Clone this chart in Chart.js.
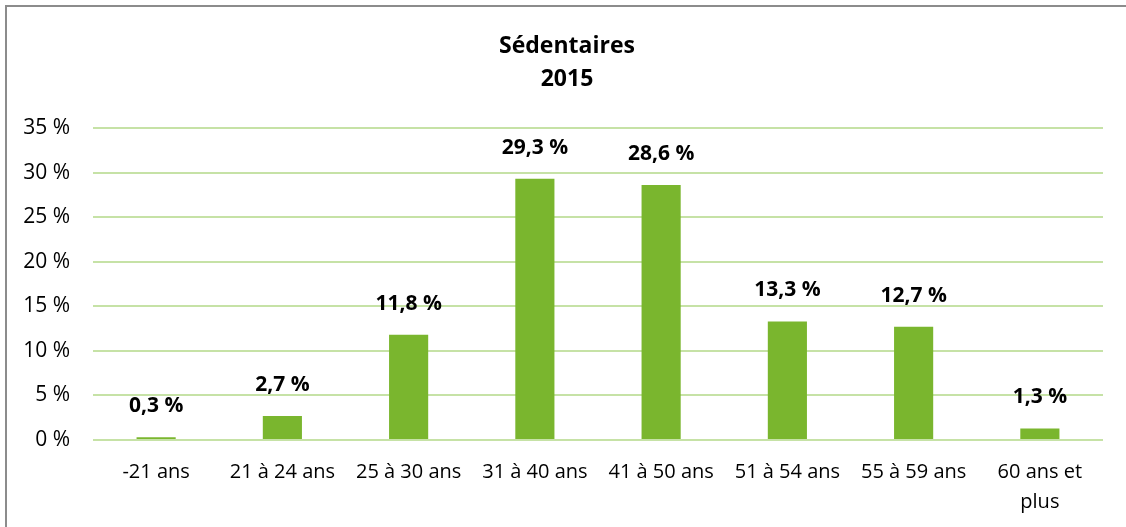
<!DOCTYPE html>
<html>
<head>
<meta charset="utf-8">
<script src="https://cdn.jsdelivr.net/npm/chart.js@4/dist/chart.umd.min.js"></script>
<style>
  html, body { margin: 0; padding: 0; background: #fff; }
  #wrap {
    position: absolute; left: 0; top: 0; width: 1126px; height: 527px;
    overflow: hidden;
  }
  #frame {
    position: absolute; left: 5px; top: 5px; width: 1200px; height: 600px;
    border-left: 2px solid #8c8c8c; border-top: 2px solid #8c8c8c;
  }
  canvas { position: absolute; left: 0; top: 0; }
</style>
</head>
<body>
<div id="wrap">
  <div id="frame"></div>
  <canvas id="myChart" width="1126" height="527"></canvas>
</div>
<script>
// données
const categories = ['-21 ans', '21 à 24 ans', '25 à 30 ans', '31 à 40 ans', '41 à 50 ans', '51 à 54 ans', '55 à 59 ans', ['60 ans et', 'plus']];
const values = [0.3, 2.7, 11.8, 29.3, 28.6, 13.3, 12.7, 1.3];
const titleLines = ['Sédentaires', '2015'];
const yTicks = [0, 5, 10, 15, 20, 25, 30, 35];

const FONT = "'Open Sans', 'Noto Sans', sans-serif";

// titre dessiné à la main pour garder la zone du graphe en place
const titlePlugin = {
  id: 'titreManuel',
  afterDraw(chart) {
    const ctx = chart.ctx;
    ctx.save();
    ctx.fillStyle = '#000';
    ctx.font = `bold 23px ${FONT}`;
    ctx.textAlign = 'center';
    ctx.textBaseline = 'middle';
    ctx.fillText(titleLines[0], 567, 46);
    ctx.fillText(titleLines[1], 567, 79);
    ctx.restore();
  }
};

// étiquettes de valeur au-dessus des barres
const labelPlugin = {
  id: 'etiquettes',
  afterDatasetsDraw(chart) {
    const ctx = chart.ctx;
    const meta = chart.getDatasetMeta(0);
    ctx.save();
    ctx.fillStyle = '#000';
    ctx.font = `bold 21px ${FONT}`;
    ctx.textAlign = 'center';
    ctx.textBaseline = 'middle';
    meta.data.forEach((bar, i) => {
      const txt = values[i].toFixed(1).replace('.', ',') + ' %';
      ctx.fillText(txt, bar.x, bar.y - 31);
    });
    ctx.restore();
  }
};

const ctx = document.getElementById('myChart').getContext('2d');
new Chart(ctx, {
  type: 'bar',
  data: {
    labels: categories,
    datasets: [{
      data: values,
      backgroundColor: '#7ab62e',
      borderWidth: 0,
      barPercentage: 0.31,
      categoryPercentage: 1
    }]
  },
  options: {
    responsive: false,
    animation: false,
    layout: { padding: { top: 128, right: 23, left: 0, bottom: 0 } },
    plugins: {
      legend: { display: false },
      title: { display: false },
      tooltip: { enabled: false }
    },
    scales: {
      x: {
        afterFit: s => { s.height = 87; },
        grid: { display: false, drawTicks: false },
        border: { display: false },
        ticks: {
          color: '#000',
          padding: 17,
          maxRotation: 0,
          autoSkip: false,
          font: { family: FONT, size: 20, lineHeight: 1.5 }
        }
      },
      y: {
        min: 0,
        max: 35,
        afterFit: s => { s.width = 93; },
        afterBuildTicks: s => { s.ticks = yTicks.map(v => ({ value: v })); },
        grid: { color: '#c6e2a6', lineWidth: 2, drawTicks: false },
        border: { display: false },
        ticks: {
          color: '#000',
          padding: 23,
          font: { family: FONT, size: 21 },
          callback: v => v + ' %'
        }
      }
    }
  },
  plugins: [titlePlugin, labelPlugin]
});
</script>
</body>
</html>
